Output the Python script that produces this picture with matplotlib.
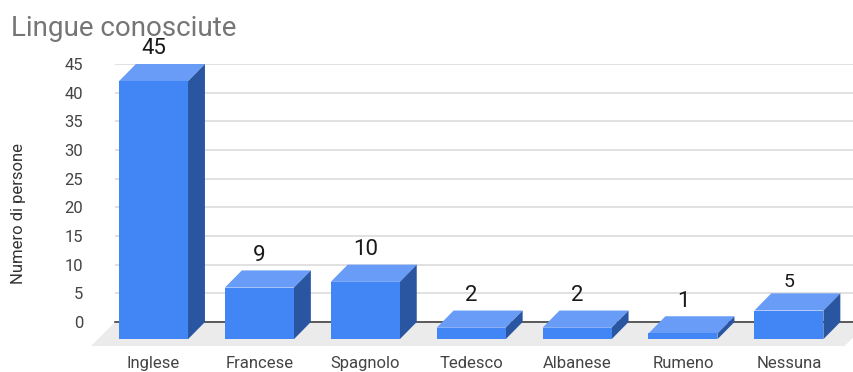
import matplotlib
matplotlib.use('Agg')
import matplotlib.pyplot as plt

languages = ['Inglese', 'Francese', 'Spagnolo', 'Tedesco', 'Albanese', 'Rumeno', 'Nessuna']
counts = [45, 9, 10, 2, 2, 1, 5]
y_ticks = [0, 5, 10, 15, 20, 25, 30, 35, 40, 45]

plt.rcParams['font.family'] = ['Roboto', 'DejaVu Sans']

W, H = 854, 372
fig = plt.figure(figsize=(W / 100, H / 100), dpi=100)
# axes box in pixels: plot area runs from x=115 to 854, y=64 to 322
ax = fig.add_axes([115 / W, 1 - 322 / H, (854 - 115) / W, (322 - 64) / H])

ax.set_xlim(-0.3635, 6.615)
ax.set_ylim(0, 45)

width = 0.652
dx = 0.16    # 3d depth, x data units
dy = 3.0     # 3d depth, y data units

front_col = '#4285f4'
top_col = '#689cf6'
side_col = '#2a56a1'

# floor under the bars
x0, x1 = ax.get_xlim()
ax.fill([x0, x0 - 0.227, x1 - 0.09, x1 + 0.14], [0, -4.2, -4.2, 0],
        color='#ebebeb', lw=0, clip_on=False, zorder=1)

for i, v in enumerate(counts):
    l = i - width / 2
    r = i + width / 2
    b = -dy
    t = v - dy
    ax.bar(i, v, width, bottom=b, color=front_col, clip_on=False, zorder=4)
    ax.fill([l, l + dx, r + dx, r], [t, t + dy, t + dy, t], color=top_col,
            lw=0, clip_on=False, zorder=3)
    ax.fill([r, r + dx, r + dx, r], [b, b + dy, t + dy, t], color=side_col,
            lw=0, clip_on=False, zorder=3)
    # the single-digit 5 label is set a bit smaller
    size = 14 if v == 5 else 16
    off = 4.5 if v == 5 else 7
    ax.annotate(str(v), (i, v), xytext=(0, off), textcoords='offset points',
                ha='center', va='baseline', fontsize=size, color='#1a1a1a',
                annotation_clip=False, zorder=6)

ax.set_yticks(y_ticks)
ax.set_xticks(range(len(languages)))
ax.set_xticklabels(languages)
ax.tick_params(axis='y', length=0, pad=23, labelsize=12, labelcolor='#444444')
ax.tick_params(axis='x', length=0, pad=24.5, labelsize=12, labelcolor='#444444')
ax.grid(axis='y', color='#d9d9d9', lw=1.1, zorder=0)
ax.set_axisbelow(True)

for s in ['top', 'left', 'right']:
    ax.spines[s].set_visible(False)
ax.spines['bottom'].set_color('#333333')
ax.spines['bottom'].set_linewidth(1.1)
ax.spines['bottom'].set_zorder(2)

fig.text(11 / W, 1 - 36 / H, 'Lingue conosciute', fontsize=20, color='#757575',
         ha='left', va='baseline')
fig.text(19 / W, 1 - 214 / H, 'Numero di persone', fontsize=12, color='#333333',
         rotation=90, ha='center', va='center')

plt.savefig('out.png', dpi=100)
